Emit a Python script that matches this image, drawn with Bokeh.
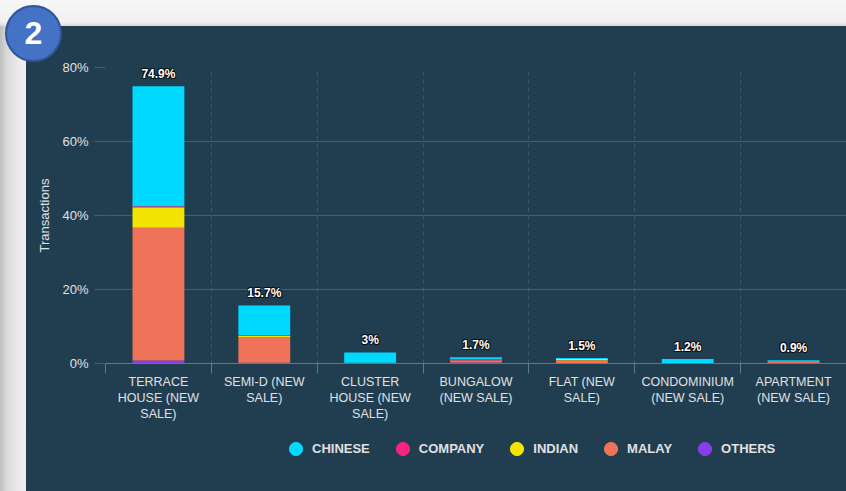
from bokeh.plotting import figure
from bokeh.models import (ColumnDataSource, FixedTicker, LinearAxis, Legend, LegendItem,
                          PrintfTickFormatter, Grid, Div)
from bokeh.layouts import column, row
from bokeh.core.properties import value
from bokeh.embed import file_html
from bokeh.resources import INLINE

# ---- data ----
categories = ["TERRACE HOUSE (NEW SALE)", "SEMI-D (NEW SALE)", "CLUSTER HOUSE (NEW SALE)",
              "BUNGALOW (NEW SALE)", "FLAT (NEW SALE)", "CONDOMINIUM (NEW SALE)",
              "APARTMENT (NEW SALE)"]
tick_labels = ["TERRACE\nHOUSE (NEW\nSALE)", "SEMI-D (NEW\nSALE)", "CLUSTER\nHOUSE (NEW\nSALE)",
               "BUNGALOW\n(NEW SALE)", "FLAT (NEW\nSALE)", "CONDOMINIUM\n(NEW SALE)",
               "APARTMENT\n(NEW SALE)"]
series_names = ["CHINESE", "COMPANY", "INDIAN", "MALAY", "OTHERS"]
chinese = [32.4, 8.0, 2.8, 0.5, 0.3, 1.1, 0.4]
company = [0.3, 0.1, 0.0, 0.3, 0.0, 0.0, 0.0]
indian = [5.5, 0.5, 0.05, 0.0, 0.3, 0.0, 0.1]
malay = [35.9, 6.9, 0.1, 0.6, 0.8, 0.1, 0.4]
others = [0.8, 0.2, 0.05, 0.3, 0.1, 0.0, 0.0]
y_ticks = [0, 20, 40, 60, 80]
badge_text = "2"

colors = {"CHINESE": "#00d9ff", "COMPANY": "#f8237f", "INDIAN": "#f2e400",
          "MALAY": "#ee7359", "OTHERS": "#8a3de6"}

PANEL = "#213e50"
TXT = "#e0e0e3"
GRID = "#44606f"
FONT = "Liberation Sans"

xs = list(range(len(categories)))
totals = [round(a + b + c + d + e, 1) for a, b, c, d, e in zip(chinese, company, indian, malay, others)]
total_labels = [f"{t:g}%" for t in totals]

source = ColumnDataSource(dict(x=xs, cat=categories, CHINESE=chinese, COMPANY=company,
                               INDIAN=indian, MALAY=malay, OTHERS=others,
                               total=totals, label=total_labels))

p = figure(width=820, height=405, x_range=(-0.5, len(categories) - 0.5), y_range=(0, 80),
           output_backend="svg", toolbar_location=None,
           x_axis_type=None, y_axis_type=None,
           min_border_left=79, min_border_right=0, min_border_top=41, min_border_bottom=68)
p.outline_line_color = None
p.border_fill_color = PANEL
p.background_fill_color = PANEL
p.xgrid.visible = False
p.ygrid.visible = False

# grids
boundaries = [i - 0.5 for i in range(len(categories) + 1)]
p.add_layout(Grid(dimension=0, ticker=FixedTicker(ticks=boundaries),
                  grid_line_color="#3e5a6b", grid_line_dash="4 4", grid_line_width=1))
p.add_layout(Grid(dimension=1, ticker=FixedTicker(ticks=y_ticks[1:]),
                  grid_line_color=GRID, grid_line_width=1))

# axes
yaxis = LinearAxis(ticker=FixedTicker(ticks=y_ticks), formatter=PrintfTickFormatter(format="%d%%"))
yaxis.axis_line_color = None
yaxis.major_tick_out = 11
yaxis.major_tick_in = 0
yaxis.major_tick_line_color = GRID
yaxis.minor_tick_line_color = None
yaxis.major_label_standoff = 6
yaxis.major_label_text_color = TXT
yaxis.major_label_text_font = FONT
yaxis.major_label_text_font_size = "13px"
yaxis.axis_label = "Transactions"
yaxis.axis_label_text_color = TXT
yaxis.axis_label_text_font = FONT
yaxis.axis_label_text_font_size = "13px"
yaxis.axis_label_text_font_style = "normal"
yaxis.axis_label_standoff = 7
p.add_layout(yaxis, "left")

xaxis = LinearAxis(ticker=FixedTicker(ticks=xs, minor_ticks=boundaries))
xaxis.major_label_overrides = {i: lbl for i, lbl in zip(xs, tick_labels)}
xaxis.axis_line_color = "#62798a"
xaxis.major_tick_line_color = None
xaxis.major_tick_out = 0
xaxis.major_tick_in = 0
xaxis.minor_tick_line_color = "#62798a"
xaxis.minor_tick_out = 10
xaxis.minor_tick_in = 0
xaxis.major_label_standoff = 1
xaxis.major_label_text_color = TXT
xaxis.major_label_text_font = FONT
xaxis.major_label_text_font_size = "12.5px"
xaxis.major_label_text_line_height = 1.15
p.add_layout(xaxis, "below")

# stacked bars (first series on top)
stack_order = ["OTHERS", "MALAY", "INDIAN", "COMPANY", "CHINESE"]
p.vbar_stack(stack_order, x="x", width=0.49, source=source,
             color=[colors[s] for s in stack_order], line_color=None)

# total labels with a dark halo
for dx, dy in [(1, 1), (-1, -1), (1, -1), (-1, 1)]:
    p.text(x="x", y="total", text="label", source=source, x_offset=dx, y_offset=-5 + dy,
           text_align="center", text_baseline="bottom", text_color="#000000", text_alpha=0.7,
           text_font=value(FONT), text_font_size="12px", text_font_style="bold")
p.text(x="x", y="total", text="label", source=source, y_offset=-5,
       text_align="center", text_baseline="bottom", text_color="#ffffff",
       text_font=value(FONT), text_font_size="12px", text_font_style="bold")

# legend in its own strip below the chart
lf = figure(width=820, height=60, x_range=(0, 1), y_range=(0, 1), output_backend="svg",
            toolbar_location=None, x_axis_type=None, y_axis_type=None,
            min_border_left=0, min_border_right=0, min_border_top=0, min_border_bottom=0)
lf.outline_line_color = None
lf.border_fill_alpha = 0
lf.background_fill_alpha = 0
lf.styles = {"background-color": PANEL}
items = []
for s in series_names:
    r = lf.scatter(x=[-5], y=[-5], marker="circle", size=13, color=colors[s])
    items.append(LegendItem(label=s, renderers=[r]))
legend = Legend(items=items, orientation="horizontal", location=(174, 26),
                background_fill_alpha=0, border_line_color=None,
                label_text_color=TXT, label_text_font=FONT, label_text_font_size="13px",
                label_text_font_style="bold", glyph_width=33, glyph_height=33,
                label_standoff=0, spacing=16, padding=0, margin=0)
lf.add_layout(legend)

# frame strips and badge
badge_html = ('<div style="position:absolute;left:5px;top:5px;width:57px;height:57px;'
              'box-sizing:border-box;border-radius:50%;background:#4472c4;'
              'border:2px solid #2f5597;color:#ffffff;font-family:\'Liberation Sans\';'
              'font-weight:bold;font-size:32px;display:flex;align-items:center;'
              'justify-content:center;z-index:100;">' + badge_text + '</div>')
top_strip = Div(text=badge_html, width=846, height=26, margin=0,
                styles={"background": "linear-gradient(to bottom, #f7f7f7 0%, #f0f0f0 85%, #d9d9d9 100%)",
                        "overflow": "visible", "z-index": "10", "padding": "0"})
left_strip = Div(text="", width=26, height=465, margin=0,
                 styles={"background": "linear-gradient(to right, #bdbdbd 0%, #d8d8d8 25%, #e6e6e6 55%, #f0f0f0 100%)"})

chart_col = column(p, lf, spacing=0, styles={"background-color": PANEL})
layout = column(top_strip, row(left_strip, chart_col, spacing=0), spacing=0)

open("out.html", "w").write(file_html(layout, INLINE))
